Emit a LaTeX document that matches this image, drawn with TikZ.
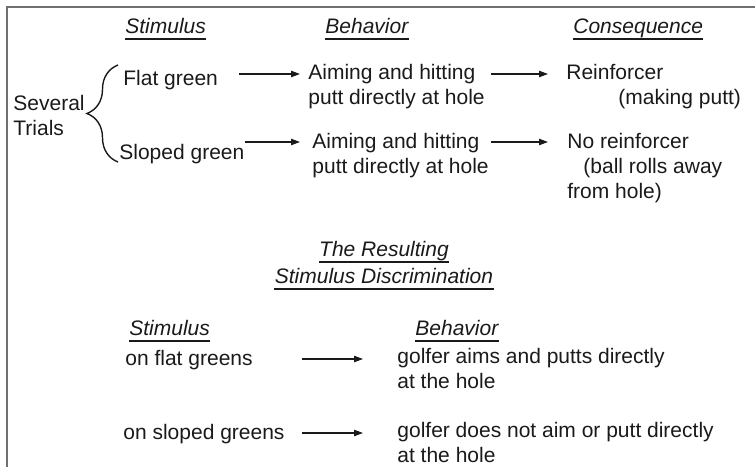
\documentclass[tikz,border=0pt]{standalone}
\usepackage{fontspec}
\setmainfont{Liberation Sans}
\usepackage{tikz}
\usetikzlibrary{arrows.meta, positioning, calc, decorations.pathreplacing}

\definecolor{ink}{HTML}{1A1A1A}
\definecolor{framegray}{HTML}{707070}

\begin{document}
\begin{tikzpicture}[
  x=0.5pt, y=-0.5pt,
  txt/.style={anchor=base west, inner sep=0pt, align=left, text=ink, font=\fontsize{10.5}{12.5}\selectfont},
  hdr/.style={txt, font=\fontsize{10.5}{12.5}\selectfont\itshape},
  arr/.style={-{Triangle[length=4.5pt, width=3.2pt]}, line width=0.6pt, ink},
  uline/.style={line width=1.1pt, ink},
  frame/.style={line width=1pt, framegray}
]
  \useasboundingbox (0,0) rectangle (755,466);

  % ----- Frame (top and left edges) -----
  \draw[frame] (7,480) |- (770,7);

  % ----- Column headers -----
  \node[hdr] (stimA) at (125,33) {Stimulus};
  \node[hdr] (behA)  at (325,33) {Behavior};
  \node[hdr] (consA) at (573,33) {Consequence};

  % ----- Trials (multi-line nodes sit on their last baseline) -----
  \node[txt] (trials) at (13,135) {Several\\Trials};
  \node[txt] (flat)   at (123,85)  {Flat green};
  \node[txt] (sloped) at (119,159) {Sloped green};
  \draw[decorate, decoration={brace, amplitude=15.5pt}, line width=0.7pt, ink]
    (118,162) -- (118,65);

  \node[txt] (beh1) at (308,104) {Aiming and hitting\\putt directly at hole};
  \node[txt] (beh2) at (312,173) {Aiming and hitting\\putt directly at hole};
  \node[txt] (con1) at (566,104) {Reinforcer\\\hspace*{26pt}(making putt)};
  \node[txt] (con2) at (567,198) {No reinforcer\\\hspace*{8pt}(ball rolls away\\from hole)};

  % ----- Resulting discrimination -----
  \node[hdr, anchor=base] (result) at (384,256) {The Resulting};
  \node[hdr, anchor=base] (discr)  at (384,283) {Stimulus Discrimination};

  \node[hdr] (stimB) at (129,335) {Stimulus};
  \node[hdr] (behB)  at (415,335) {Behavior};
  \node[txt] (onflat)  at (125,365) {on flat greens};
  \node[txt] (onslope) at (123,439) {on sloped greens};
  \node[txt] (gol1) at (397,388) {golfer aims and putts directly\\at the hole};
  \node[txt] (gol2) at (397,462) {golfer does not aim or putt directly\\at the hole};

  % ----- Underlines -----
  \foreach \n in {stimA, behA, consA, result, discr, stimB, behB}
    \draw[uline] ([yshift=-3pt]\n.base west) -- ([yshift=-3pt]\n.base east);

  % ----- Arrows -----
  \coordinate (r1) at (0,74);
  \coordinate (r2) at (0,142);
  \coordinate (r3) at (0,359);
  \coordinate (r4) at (0,433);
  \draw[arr, shorten <=10.5pt, shorten >=4pt] (flat.east |- r1) -- (beh1.west |- r1);
  \draw[arr, shorten <=3pt, shorten >=9pt] (beh1.east |- r1) -- (con1.west |- r1);
  \draw[arr, shorten >=6pt] (sloped.east |- r2) -- (beh2.west |- r2);
  \draw[arr, shorten <=1pt, shorten >=9.5pt] (beh2.east |- r2) -- (con2.west |- r2);
  \draw[arr, shorten <=24.5pt, shorten >=17pt] (onflat.east |- r3) -- (gol1.west |- r3);
  \draw[arr, shorten <=8.5pt, shorten >=17pt] (onslope.east |- r4) -- (gol2.west |- r4);
\end{tikzpicture}
\end{document}
